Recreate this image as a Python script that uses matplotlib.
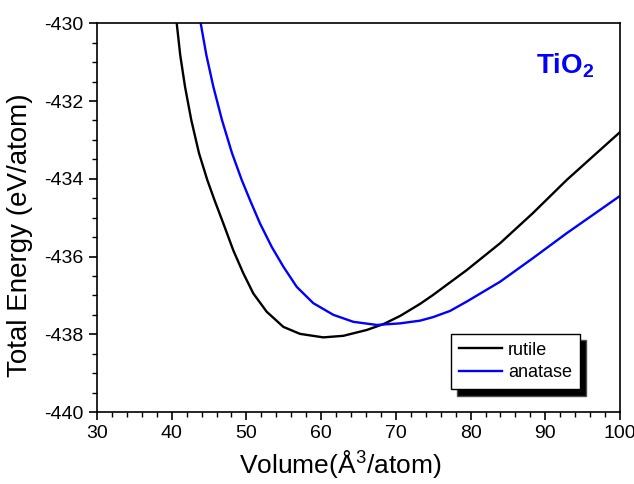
import matplotlib
matplotlib.use("Agg")
import matplotlib.pyplot as plt
from matplotlib.ticker import MultipleLocator

plt.rcParams['font.family'] = ['Liberation Sans', 'DejaVu Sans']
plt.rcParams['mathtext.fontset'] = 'custom'
plt.rcParams['mathtext.rm'] = 'Liberation Sans'
plt.rcParams['mathtext.bf'] = 'Liberation Sans:bold'
plt.rcParams['axes.unicode_minus'] = False

# valores
vol_rutile = [40.67, 41.14, 41.78, 42.62, 43.65, 44.76, 45.73, 46.91, 48.24, 49.58,
              50.92, 52.71, 54.94, 57.17, 60.29, 62.97, 66.10, 68.32, 70.56, 73.23,
              74.97, 79.48, 83.94, 88.36, 92.87, 97.33, 100.0]
e_rutile = [-430.0, -430.82, -431.63, -432.49, -433.34, -434.03, -434.55, -435.15, -435.84, -436.43,
            -436.95, -437.42, -437.81, -437.99, -438.08, -438.04, -437.89, -437.74, -437.53, -437.22,
            -436.99, -436.35, -435.66, -434.88, -434.03, -433.26, -432.80]

vol_anatase = [43.88, 44.64, 45.57, 46.73, 48.07, 49.37, 50.48, 51.82, 53.38, 54.94,
               56.73, 58.95, 61.63, 64.31, 67.44, 70.56, 73.23, 74.97, 77.25, 79.48,
               83.94, 88.36, 92.87, 97.33, 100.0]
e_anatase = [-430.0, -430.82, -431.63, -432.49, -433.34, -434.03, -434.55, -435.15, -435.75, -436.26,
             -436.78, -437.20, -437.50, -437.68, -437.76, -437.72, -437.65, -437.56, -437.40, -437.16,
             -436.65, -436.04, -435.40, -434.80, -434.44]

fig = plt.figure(figsize=(6.34, 4.84), dpi=100)
ax = fig.add_axes([97/634, 1 - 412/484, 523/634, (412 - 23.3)/484])

ax.plot(vol_rutile, e_rutile, color='black', lw=1.7, label='rutile')
ax.plot(vol_anatase, e_anatase, color='blue', lw=1.7, label='anatase')

ax.set_xlim(30, 100)
ax.set_ylim(-440, -430)
ax.xaxis.set_major_locator(MultipleLocator(10))
ax.xaxis.set_minor_locator(MultipleLocator(2))
ax.yaxis.set_major_locator(MultipleLocator(2))
ax.yaxis.set_minor_locator(MultipleLocator(0.5))
ax.tick_params(which='major', direction='out', length=6, width=1.2, labelsize=14)
ax.tick_params(which='minor', direction='out', length=3.5, width=1.0)
for s in ax.spines.values():
    s.set_linewidth(1.2)

ax.set_xlabel('Volume(Å$^3$/atom)', fontsize=19)
ax.set_ylabel('Total Energy (eV/atom)', fontsize=20)
ax.xaxis.set_label_coords(0.465, -0.092)
ax.yaxis.set_label_coords(-0.122, 0.455)

ax.text(88.76, -431.30, r'$\mathbf{TiO_2}$', color='blue', fontsize=20,
        ha='left', va='baseline')

leg = ax.legend(loc='lower right', bbox_to_anchor=(0.9235, 0.0584), frameon=True,
                fancybox=False, shadow={'ox': 4.5, 'oy': -4.5, 'facecolor': 'black', 'alpha': 1},
                fontsize=13, handlelength=2.4, borderpad=0.45, labelspacing=0.3,
                handletextpad=0.3, borderaxespad=0)
leg.get_frame().set_edgecolor('black')
leg.get_frame().set_linewidth(1.0)

fig.savefig('out.png', dpi=100)
